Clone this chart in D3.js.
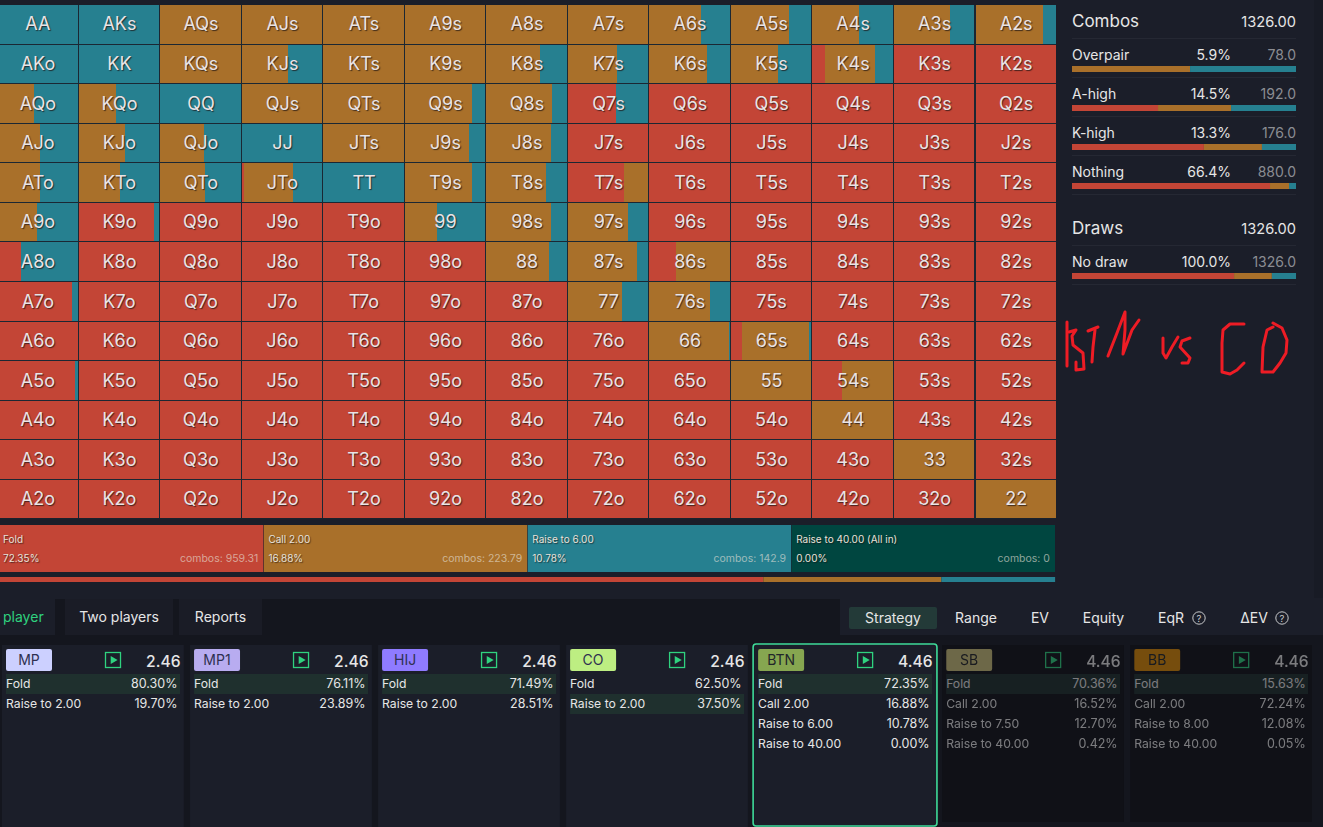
<!DOCTYPE html>
<html>
<head>
<meta charset="utf-8">
<title>BTN vs CO preflop strategy</title>
<script src="https://cdn.jsdelivr.net/npm/d3@7/dist/d3.min.js"></script>
<style>
    html, body { margin: 0; padding: 0; background: #1b1e29; overflow: hidden; }
    svg { display: block; font-family: Inter, "Noto Sans", sans-serif; }
    .hand { text-shadow: 1px 1px 1px rgba(30, 20, 20, .75); }
    .shadow { text-shadow: 1px 1px 1px rgba(20, 15, 15, .6); }
</style>
</head>
<body>
<svg id="chart" width="1323" height="827"></svg>
<script>
const ranks = ["A", "K", "Q", "J", "T", "9", "8", "7", "6", "5", "4", "3", "2"];

// percent of each hand, row/col follow ranks (suited above the diagonal)
const foldMix = [
    [0, 0, 0, 0, 0, 0, 0, 0, 0, 0, 0, 0, 0],
    [0, 0, 0, 0, 0, 0, 0, 0, 0, 0, 16, 100, 100],
    [0, 0, 0, 0, 0, 0, 0, 60, 100, 100, 100, 100, 100],
    [0, 0, 0, 0, 0, 0, 0, 100, 100, 100, 100, 100, 100],
    [0, 0, 0, 3, 0, 0, 0, 70, 100, 100, 100, 100, 100],
    [0, 94, 100, 100, 100, 0, 0, 0, 100, 100, 100, 100, 100],
    [29, 100, 100, 100, 100, 100, 0, 0, 33, 100, 100, 100, 100],
    [93, 100, 100, 100, 100, 100, 100, 0, 0, 100, 100, 100, 100],
    [100, 100, 100, 100, 100, 100, 100, 100, 0, 14, 100, 100, 100],
    [97, 100, 100, 100, 100, 100, 100, 100, 100, 0, 37, 100, 100],
    [100, 100, 100, 100, 100, 100, 100, 100, 100, 100, 0, 100, 100],
    [100, 100, 100, 100, 100, 100, 100, 100, 100, 100, 100, 0, 100],
    [100, 100, 100, 100, 100, 100, 100, 100, 100, 100, 100, 100, 0]
];
const callMix = [
    [0, 0, 100, 100, 100, 100, 100, 100, 64, 72, 58, 70, 84],
    [0, 0, 100, 57, 100, 100, 67, 61, 71, 58, 62, 0, 0],
    [45, 46, 0, 100, 100, 84, 82, 0, 0, 0, 0, 0, 0],
    [53, 58, 54, 0, 100, 80, 80, 0, 0, 0, 0, 0, 0],
    [53, 51, 56, 60, 0, 83, 74, 30, 0, 0, 0, 0, 0],
    [49, 0, 0, 0, 0, 40, 80, 75, 0, 0, 0, 0, 0],
    [0, 0, 0, 0, 0, 0, 78, 86, 67, 0, 0, 0, 0],
    [0, 0, 0, 0, 0, 0, 0, 67, 75, 0, 0, 0, 0],
    [0, 0, 0, 0, 0, 0, 0, 0, 99, 83, 0, 0, 0],
    [0, 0, 0, 0, 0, 0, 0, 0, 0, 100, 63, 0, 0],
    [0, 0, 0, 0, 0, 0, 0, 0, 0, 0, 100, 0, 0],
    [0, 0, 0, 0, 0, 0, 0, 0, 0, 0, 0, 100, 0],
    [0, 0, 0, 0, 0, 0, 0, 0, 0, 0, 0, 0, 100]
];
const raiseMix = [
    [100, 100, 0, 0, 0, 0, 0, 0, 36, 28, 42, 30, 16],
    [100, 100, 0, 43, 0, 0, 33, 39, 29, 42, 22, 0, 0],
    [55, 54, 100, 0, 0, 16, 18, 40, 0, 0, 0, 0, 0],
    [47, 42, 46, 100, 0, 20, 20, 0, 0, 0, 0, 0, 0],
    [47, 49, 44, 37, 100, 17, 26, 0, 0, 0, 0, 0, 0],
    [51, 6, 0, 0, 0, 60, 20, 25, 0, 0, 0, 0, 0],
    [71, 0, 0, 0, 0, 0, 22, 14, 0, 0, 0, 0, 0],
    [7, 0, 0, 0, 0, 0, 0, 33, 25, 0, 0, 0, 0],
    [0, 0, 0, 0, 0, 0, 0, 0, 1, 3, 0, 0, 0],
    [3, 0, 0, 0, 0, 0, 0, 0, 0, 0, 0, 0, 0],
    [0, 0, 0, 0, 0, 0, 0, 0, 0, 0, 0, 0, 0],
    [0, 0, 0, 0, 0, 0, 0, 0, 0, 0, 0, 0, 0],
    [0, 0, 0, 0, 0, 0, 0, 0, 0, 0, 0, 0, 0]
];

const actionNames = ["Fold", "Call 2.00", "Raise to 6.00", "Raise to 40.00 (All in)"];
const actionPct = [72.35, 16.88, 10.78, 0.00];
const actionPctText = ["72.35%", "16.88%", "10.78%", "0.00%"];
const actionCombos = ["959.31", "223.79", "142.9", "0"];

const comboNames = ["Overpair", "A-high", "K-high", "Nothing"];
const comboPct = ["5.9%", "14.5%", "13.3%", "66.4%"];
const comboCount = ["78.0", "192.0", "176.0", "880.0"];
const comboFold = [0, 38.4, 58.9, 88.4];
const comboCall = [52.7, 32.6, 25.9, 8.5];
const comboRaise = [47.3, 29, 15.2, 3.1];

const tabNames = ["Two players", "Reports"];
const viewNames = ["Strategy", "Range", "EV", "Equity", "EqR", "ΔEV"];

const seatNames = ["MP", "MP1", "HIJ", "CO", "BTN", "SB", "BB"];
const seatStacks = ["2.46", "2.46", "2.46", "2.46", "4.46", "4.46", "4.46"];
const seatActions = [
    ["Fold", "Raise to 2.00"],
    ["Fold", "Raise to 2.00"],
    ["Fold", "Raise to 2.00"],
    ["Fold", "Raise to 2.00"],
    ["Fold", "Call 2.00", "Raise to 6.00", "Raise to 40.00"],
    ["Fold", "Call 2.00", "Raise to 7.50", "Raise to 40.00"],
    ["Fold", "Call 2.00", "Raise to 8.00", "Raise to 40.00"]
];
const seatPcts = [
    ["80.30%", "19.70%"],
    ["76.11%", "23.89%"],
    ["71.49%", "28.51%"],
    ["62.50%", "37.50%"],
    ["72.35%", "16.88%", "10.78%", "0.00%"],
    ["70.36%", "16.52%", "12.70%", "0.42%"],
    ["15.63%", "72.24%", "12.08%", "0.05%"]
];
const seatBest = [0, 0, 0, 1, 0, 0, 0];
const seatColors = ["#ccd0ff", "#b8acf0", "#8f7bff", "#bdee82", "#86a650", "#8e8756", "#9a6103"];

const mixColors = ["#c34536", "#a9702a", "#268090"];
const allInColor = "#004640";

const svg = d3.select("#chart");
const text = "#e6e6e6";

svg.append("rect").attr("width", 1323).attr("height", 827).attr("fill", "#1b1e29");
svg.append("rect").attr("x", 1314).attr("width", 9).attr("height", 598).attr("fill", "#181b25");

// hand grid
const xGrid = d3.scaleBand().domain(ranks).range([-2.7, 1056]).paddingInner(0.013);
const yGrid = d3.scaleBand().domain(ranks).range([5, 518.5]).paddingInner(0.026);
const xMix = d3.scaleLinear().domain([0, 100]).range([0, xGrid.bandwidth()]);

svg.append("rect").attr("y", 5).attr("width", 1056).attr("height", 513.5).attr("fill", "#1b2733");

const handName = (i, j) => i === j ? ranks[i] + ranks[j]
    : i < j ? ranks[i] + ranks[j] + "s" : ranks[j] + ranks[i] + "o";

const hands = d3.cross(d3.range(13), d3.range(13)).map(([i, j]) => ({
    row: i,
    col: j,
    name: handName(i, j),
    mix: [foldMix[i][j], callMix[i][j], raiseMix[i][j]]
}));

const handCell = svg.append("g")
    .selectAll("g")
    .data(hands)
    .join("g")
    .attr("transform", d => `translate(${xGrid(ranks[d.col])},${yGrid(ranks[d.row])})`);

handCell.selectAll("rect")
    .data(d => {
        let sum = 0;
        return d.mix.map((v, k) => {
            const seg = {start: sum, value: v, k: k};
            sum += v;
            return seg;
        });
    })
    .join("rect")
    .attr("x", d => xMix(d.start))
    .attr("width", d => xMix(d.start + d.value) - xMix(d.start))
    .attr("height", yGrid.bandwidth())
    .attr("fill", d => mixColors[d.k])
    .attr("shape-rendering", "crispEdges");

handCell.append("text")
    .attr("class", "hand")
    .attr("x", xGrid.bandwidth() / 2 + 0.4)
    .attr("y", yGrid.bandwidth() / 2 + 6.2)
    .attr("text-anchor", "middle")
    .attr("font-size", 18)
    .attr("fill", "#e9e4e6")
    .text(d => d.name);

// action summary blocks
const xAction = d3.scaleBand().domain(actionNames).range([0, 1055]).paddingInner(0.002);
const actionCell = svg.append("g")
    .selectAll("g")
    .data(actionNames.map((name, k) => ({name: name, k: k})))
    .join("g")
    .attr("transform", d => `translate(${xAction(d.name)},525)`);

actionCell.append("rect")
    .attr("width", xAction.bandwidth())
    .attr("height", 47)
    .attr("fill", d => d.k < 3 ? mixColors[d.k] : allInColor);
actionCell.append("text")
    .attr("class", "shadow")
    .attr("x", d => d.k === 0 ? 3 : 4.5)
    .attr("y", 18)
    .attr("font-size", 10)
    .attr("fill", "#e8e2da")
    .text(d => d.name);
actionCell.append("text")
    .attr("class", "shadow")
    .attr("x", d => d.k === 0 ? 3 : 4.5)
    .attr("y", 37)
    .attr("font-size", 10)
    .attr("fill", "#e8e2da")
    .text(d => actionPctText[d.k]);
actionCell.append("text")
    .attr("x", xAction.bandwidth() - 5)
    .attr("y", 37)
    .attr("text-anchor", "end")
    .attr("font-size", 10.5)
    .attr("fill", "#e8e2da")
    .attr("fill-opacity", 0.62)
    .text(d => `combos: ${actionCombos[d.k]}`);

// overall strategy bar
const xTotal = d3.scaleLinear().domain([0, 100]).range([0, 1055]);
const totalStack = d3.cumsum(actionPct.slice(0, 3));
svg.append("g")
    .selectAll("rect")
    .data(actionPct.slice(0, 3))
    .join("rect")
    .attr("x", (d, k) => xTotal(totalStack[k] - d))
    .attr("y", 577)
    .attr("width", d => xTotal(d))
    .attr("height", 5)
    .attr("fill", (d, k) => mixColors[k]);

// right hand stats
const panel = svg.append("g");
const xStat = d3.scaleLinear().domain([0, 100]).range([1072, 1296]);

function statHeader(label, total, y) {
    panel.append("text").attr("x", 1072).attr("y", y + 6).attr("font-size", 17).attr("fill", text).text(label);
    panel.append("text").attr("x", 1296).attr("y", y + 5.5).attr("text-anchor", "end")
        .attr("font-size", 14.6).attr("fill", text).text(total);
    panel.append("rect").attr("x", 1072).attr("y", y + 17).attr("width", 224).attr("height", 1).attr("fill", "#252833");
}

function statRow(label, pct, count, parts, y) {
    panel.append("text").attr("x", 1072).attr("y", y + 5).attr("font-size", 14).attr("fill", text).text(label);
    panel.append("text").attr("x", 1231).attr("y", y + 5).attr("text-anchor", "end")
        .attr("font-size", 14).attr("fill", text).text(pct);
    panel.append("text").attr("x", 1296).attr("y", y + 5).attr("text-anchor", "end")
        .attr("font-size", 14).attr("fill", "#8b8d93").text(count);
    const stack = d3.cumsum(parts);
    panel.append("g").selectAll("rect")
        .data(parts)
        .join("rect")
        .attr("x", (d, k) => xStat(stack[k] - d))
        .attr("y", y + 11)
        .attr("width", d => xStat(d) - xStat(0))
        .attr("height", 6)
        .attr("fill", (d, k) => mixColors[k]);
    panel.append("rect").attr("x", 1072).attr("y", y + 22).attr("width", 224).attr("height", 1).attr("fill", "#252833");
}

statHeader("Combos", "1326.00", 21);
comboNames.forEach((name, k) => {
    statRow(name, comboPct[k], comboCount[k], [comboFold[k], comboCall[k], comboRaise[k]], 55 + k * 39);
});
statHeader("Draws", "1326.00", 228);
statRow("No draw", "100.0%", "1326.0", actionPct.slice(0, 3), 262);

// red freehand note in screen pixels
const scribbles = [
    [[1067, 322], [1067, 343], [1067, 366]],
    [[1069, 332], [1076, 330], [1072, 336], [1073, 345], [1083, 353], [1084, 369], [1076, 370], [1076, 362]],
    [[1088, 331], [1098, 327]],
    [[1095, 330], [1093, 347], [1092, 362]],
    [[1108, 356], [1117, 333], [1125, 312], [1125, 330], [1123, 354], [1132, 330], [1139, 320]],
    [[1163, 338], [1163, 353], [1166, 358], [1172, 347], [1178, 337]],
    [[1190, 338], [1182, 341], [1180, 347], [1190, 358], [1188, 363], [1182, 363]],
    [[1244, 324], [1230, 324], [1223, 330], [1222, 343], [1222, 372], [1230, 374], [1237, 370], [1244, 363]],
    [[1273, 323], [1282, 328], [1287, 340], [1286, 353], [1280, 363], [1273, 372], [1262, 372], [1263, 347], [1267, 330], [1273, 327]]
];
svg.append("g")
    .selectAll("path")
    .data(scribbles)
    .join("path")
    .attr("d", d3.line())
    .attr("fill", "none")
    .attr("stroke", "#ee1c25")
    .attr("stroke-width", 3)
    .attr("stroke-linecap", "round")
    .attr("stroke-linejoin", "round");

// tab row
svg.append("rect").attr("y", 599).attr("width", 840).attr("height", 228).attr("fill", "#14161e");
svg.append("rect").attr("y", 635).attr("x", 840).attr("width", 483).attr("height", 192).attr("fill", "#14161e");
svg.append("rect").attr("y", 599).attr("width", 55).attr("height", 36).attr("fill", "#1b1e29");
svg.append("text").attr("x", 3).attr("y", 622).attr("font-size", 14).attr("fill", "#2fd27f").text("player");

const tabX = [65, 179];
const tabW = [108, 83];
tabNames.forEach((name, k) => {
    svg.append("rect").attr("x", tabX[k]).attr("y", 599).attr("width", tabW[k]).attr("height", 36).attr("fill", "#1a1c26");
    svg.append("text").attr("x", tabX[k] + tabW[k] / 2).attr("y", 622).attr("text-anchor", "middle")
        .attr("font-size", 14).attr("fill", text).text(name);
});

svg.append("rect").attr("x", 849).attr("y", 607).attr("width", 88).attr("height", 22).attr("rx", 2).attr("fill", "#233a38");
const viewX = [893, 976, 1040, 1103.5, 1171, 1254];
viewNames.forEach((name, k) => {
    svg.append("text").attr("x", viewX[k]).attr("y", 623).attr("text-anchor", "middle")
        .attr("font-size", 14).attr("fill", text).text(name);
});
[1199, 1282].forEach(cx => {
    svg.append("circle").attr("cx", cx).attr("cy", 618).attr("r", 6.2)
        .attr("fill", "none").attr("stroke", "#c8cacc").attr("stroke-width", 1);
    svg.append("text").attr("x", cx).attr("y", 621.5).attr("text-anchor", "middle")
        .attr("font-size", 9.5).attr("fill", "#c8cacc").text("?");
});

// seat cards
const xCard = d3.scaleBand().domain(seatNames).range([2, 1312]).paddingInner(0.033);
const cardW = xCard.bandwidth();
const yRow = d3.scaleBand().domain(d3.range(4)).range([674, 754]);

const card = svg.append("g")
    .selectAll("g")
    .data(seatNames.map((name, k) => ({name: name, k: k})))
    .join("g")
    .attr("transform", d => `translate(${xCard(d.name)},645)`);

const cardBg = (d) => d.k > 4 ? "#101117" : "#1b1e29";
card.append("rect").attr("width", cardW).attr("height", d => d.k > 4 ? 177 : 182).attr("fill", cardBg);

const body = card.append("g").attr("opacity", d => d.k > 4 ? 0.5 : 1);

body.append("rect")
    .attr("x", 4).attr("y", 4)
    .attr("width", 46).attr("height", 22)
    .attr("rx", 2)
    .attr("fill", d => d.k > 4 ? d3.color(seatColors[d.k]).brighter(1.0) : seatColors[d.k]);
body.append("text")
    .attr("x", 27).attr("y", 20)
    .attr("text-anchor", "middle")
    .attr("font-size", 14)
    .attr("fill", d => d.k > 3 ? "#22262a" : "#2f3050")
    .text(d => d.name);

body.append("rect")
    .attr("x", 103.5).attr("y", 7.5)
    .attr("width", 15).attr("height", 15)
    .attr("fill", "none")
    .attr("stroke", "#2fd27f")
    .attr("stroke-width", 1.3);
body.append("path")
    .attr("d", d3.symbol(d3.symbolTriangle, 28))
    .attr("transform", "translate(111,15) rotate(90)")
    .attr("fill", "#2fd27f");

body.append("text")
    .attr("x", 178.5).attr("y", 21.5)
    .attr("text-anchor", "end")
    .attr("font-size", 15.6)
    .attr("font-weight", 500)
    .attr("fill", text)
    .text(d => seatStacks[d.k]);

const seatRow = body.selectAll("g.row")
    .data(d => seatActions[d.k].map((name, r) => ({name: name, r: r, k: d.k})))
    .join("g")
    .attr("class", "row")
    .attr("transform", d => `translate(0,${yRow(d.r) - 645})`);

seatRow.filter(d => d.r === seatBest[d.k]).append("rect")
    .attr("x", 4)
    .attr("width", 174)
    .attr("height", yRow.bandwidth())
    .attr("fill", "#1f302e");
seatRow.append("text")
    .attr("x", 4).attr("y", 14)
    .attr("font-size", 12.2)
    .attr("fill", text)
    .text(d => d.name);
seatRow.append("text")
    .attr("x", 175.5).attr("y", 14)
    .attr("text-anchor", "end")
    .attr("font-size", 12.5)
    .attr("fill", text)
    .text(d => seatPcts[d.k][d.r]);

// selected seat outline
svg.append("rect")
    .attr("x", xCard("BTN") - 1)
    .attr("y", 644)
    .attr("width", cardW + 2)
    .attr("height", 182)
    .attr("rx", 3)
    .attr("fill", "none")
    .attr("stroke", "#3fdc9a")
    .attr("stroke-width", 1.6);
</script>
</body>
</html>
